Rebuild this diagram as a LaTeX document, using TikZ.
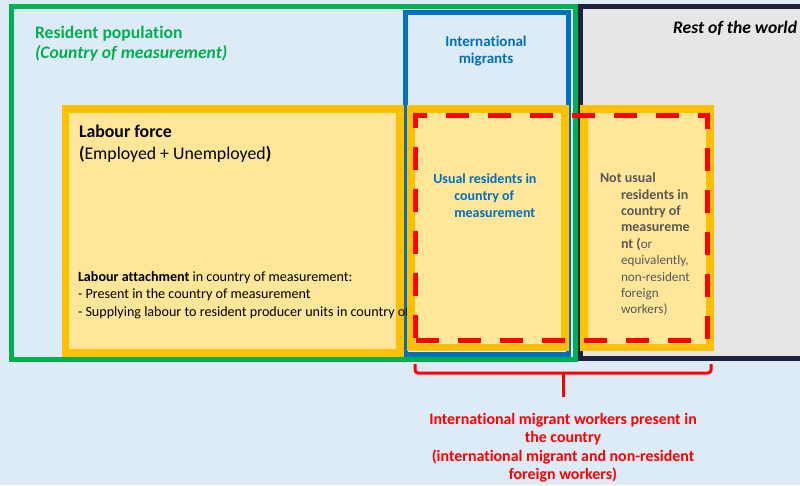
\documentclass[tikz,border=0pt]{standalone}
\usepackage{fontspec}
\setmainfont[Ligatures=NoCommon]{Carlito}
\definecolor{bgblue}{RGB}{221,235,247}
\definecolor{resgreen}{RGB}{0,176,80}
\definecolor{migblue}{RGB}{0,112,192}
\definecolor{lforange}{RGB}{255,192,0}
\definecolor{lffill}{RGB}{255,230,153}
\definecolor{rowline}{RGB}{32,33,62}
\definecolor{rowfill}{RGB}{231,230,230}
\definecolor{nugray}{RGB}{89,89,89}
\definecolor{mred}{RGB}{255,0,0}
\newcommand\setfs[1]{\fontsize{#1}{#1}\selectfont}
\begin{document}
\begin{tikzpicture}[x=1pt,y=-1pt,
  frame/.style={draw, rectangle, inner sep=0pt, outer sep=0pt, anchor=center},
  txt/.style={inner sep=0pt, outer sep=0pt, anchor=base west},
  ctxt/.style={inner sep=0pt, outer sep=0pt, anchor=base},
  lfbox/.style={frame, draw=lforange, fill=lffill, line width=7.5pt},
  nub/.style={txt, text=nugray, font=\setfs{14}\bfseries},
  nur/.style={txt, text=nugray, font=\setfs{13.2}},
  urt/.style={txt, text=migblue, font=\setfs{14}\bfseries},
  btxt/.style={ctxt, text=mred, font=\setfs{15.9}\bfseries},
]
\useasboundingbox (0,0) rectangle (800,485);
\clip (0,0) rectangle (800,485);
\fill[bgblue] (0,0) rectangle (800,485);

% rest of the world
\node[frame, draw=rowline, fill=rowfill, line width=5pt, minimum width=319.5pt, minimum height=352pt] (row) at (740.25,182) {};
% resident population
\node[frame, draw=resgreen, line width=5pt, minimum width=564pt, minimum height=353pt] (res) at (293,182.5) {};
% international migrants
\node[frame, draw=migblue, line width=5pt, minimum width=162.5pt, minimum height=342pt] (mig) at (486.75,183) {};

% labour force
\node[lfbox, minimum width=334.5pt, minimum height=244pt] (lf) at (232.75,231) {};

% texts top
\node[txt, text=resgreen, font=\setfs{17.6}\bfseries] (t1) at (35,38) {Resident population};
\node[txt, text=resgreen, font=\setfs{17.6}\bfseries\itshape] (t2) at (35,58) {(Country of measurement)};
\node[ctxt, text=migblue, font=\setfs{15}\bfseries] (t3) at (486,46.5) {International};
\node[ctxt, text=migblue, font=\setfs{15}\bfseries] (t4) at (486,63.3) {migrants};
\node[txt, font=\setfs{17.6}\bfseries\itshape] (t5) at (673,33.3) {Rest of the world};

% labour force text
\node[txt, font=\setfs{17.8}\bfseries] (l1) at (79,137.3) {Labour force};
\node[txt, font=\setfs{17.8}] (l2) at (79,159.3) {\textbf{(}Employed + Unemployed\textbf{)}};
\node[txt, font=\setfs{14.1}] (a1) at (78,281.7) {\textbf{Labour attachment} in country of measurement:};
\node[txt, font=\setfs{14.1}] (a2) at (78,298.3) {- Present in the country of measurement};
\node[txt, font=\setfs{14.1}] (a3) at (78,316) {- Supplying labour to resident producer units in country of measurement};

% usual residents / not usual
\node[lfbox, minimum width=154pt, minimum height=238.5pt] (ur) at (488,228.25) {};
\node[lfbox, minimum width=126pt, minimum height=238.5pt] (nu) at (647,228.25) {};

\node[urt] (u1) at (433.3,183.3) {Usual residents in};
\node[urt] (u2) at (454.3,200) {country of};
\node[urt] (u3) at (454.3,217.3) {measurement};

\node[nub] (n1) at (600,182.7) {Not usual};
\node[nub] (n2) at (621,199.1) {residents in};
\node[nub] (n3) at (621,215.5) {country of};
\node[nub] (n4) at (621,231.9) {measureme};
\node[nur] (n5) at (621,248.3) {\textbf{\setfs{14}nt (}or};
\node[nur] (n6) at (621,264.7) {equivalently,};
\node[nur] (n7) at (621,281.1) {non-resident};
\node[nur] (n8) at (621,297.5) {foreign};
\node[nur] (n9) at (621,313.9) {workers)};

% red dashed
\node[frame, draw=mred, line width=5pt, dash pattern=on 23pt off 19pt, minimum width=292pt, minimum height=225pt] (imw) at (561.5,228) {};

% bracket
\coordinate (bl) at (415,364);
\coordinate (br) at (711,364);
\coordinate (bm) at (563,373);
\coordinate (bt) at (563,397);
\draw[mred, line width=3pt, rounded corners=3pt] (bl) -- (bl |- bm) -- (br |- bm) -- (br);
\draw[mred, line width=3pt] (bm) -- (bt);

\node[btxt] (b1) at (563,424) {International migrant workers present in};
\node[btxt] (b2) at (563,442.5) {the country};
\node[btxt] (b3) at (563,461) {(international migrant and non-resident};
\node[btxt] (b4) at (563,479.3) {foreign workers)};
\end{tikzpicture}
\end{document}
